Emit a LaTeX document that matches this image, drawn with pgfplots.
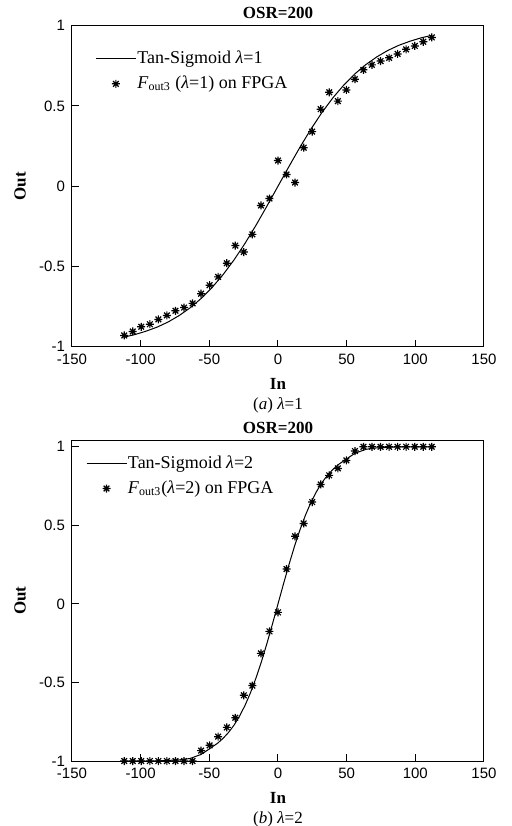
\documentclass[border=0pt]{standalone}
\usepackage{fontspec}
\setmainfont{Liberation Serif}
\setsansfont{Liberation Sans}
\usepackage{pgfplots}
\pgfplotsset{compat=1.18}

% eight-armed asterisk as on the FPGA points
\pgfdeclareplotmark{ast8}{%
  \pgfpathmoveto{\pgfqpoint{-\pgfplotmarksize}{0pt}}\pgfpathlineto{\pgfqpoint{\pgfplotmarksize}{0pt}}%
  \pgfpathmoveto{\pgfqpoint{0pt}{-\pgfplotmarksize}}\pgfpathlineto{\pgfqpoint{0pt}{\pgfplotmarksize}}%
  \pgfpathmoveto{\pgfqpoint{-0.707\pgfplotmarksize}{-0.707\pgfplotmarksize}}\pgfpathlineto{\pgfqpoint{0.707\pgfplotmarksize}{0.707\pgfplotmarksize}}%
  \pgfpathmoveto{\pgfqpoint{-0.707\pgfplotmarksize}{0.707\pgfplotmarksize}}\pgfpathlineto{\pgfqpoint{0.707\pgfplotmarksize}{-0.707\pgfplotmarksize}}%
  \pgfusepathqstroke}

\newcommand{\capfont}{\fontsize{8.5}{10}\selectfont}

\pgfplotsset{
  osr/.style={
    scale only axis, width=206pt, height=160.5pt,
    xmin=-150, xmax=150, ymin=-1, ymax=1, clip=false,
    xtick={-150,-100,-50,0,50,100,150}, xticklabels={-150,-100,-50,0,50,100,150},
    ytick={-1,-0.5,0,0.5,1}, yticklabels={-1,-0.5,0,0.5,1},
    tick pos=left, tick align=inside, major tick length=3.5pt,
    tick label style={font=\sffamily\fontsize{7.5}{9}\selectfont},
    axis line style={line width=0.5pt}, every tick/.style={black, line width=0.5pt},
    title={OSR=200},
    every axis title/.style={font=\bfseries\capfont, at={(axis description cs:0.5,1)}, anchor=base, yshift=3.7pt, inner sep=0pt},
    xlabel={In}, ylabel={Out},
    every axis x label/.style={font=\bfseries\capfont, at={(axis description cs:0.5,0)}, anchor=base, yshift=-21.3pt, inner sep=0pt},
    every axis y label/.style={font=\bfseries\capfont, at={(axis description cs:0,0.5)}, xshift=-26pt, rotate=90, anchor=center, inner sep=0pt},
    legend cell align=left,
    legend image code/.code={\draw[mark repeat=2,mark phase=2,#1] plot coordinates {(0pt,0pt)(10pt,0pt)(20pt,0pt)};},
    legend style={draw=none, fill=none, inner sep=0pt, font=\fontsize{9}{10}\selectfont,
      nodes={inner sep=0.5pt}, at={(axis description cs:0,1)}, anchor=north west},
  },
  curve/.style={black, line width=0.5pt, mark=none},
  fpga/.style={black, only marks, mark=ast8, mark size=2pt, line width=0.6pt},
}

\begin{document}
\begin{tikzpicture}
\useasboundingbox (-36pt,12.85pt) rectangle (219.5pt,-400.15pt);

% (a) lambda = 1
\begin{axis}[osr, name=a1, at={(0pt,0pt)}, anchor=north west,
  legend style={xshift=11.5pt, yshift=-12pt, row sep=3.6pt}]
\addplot[curve] coordinates {
(-112,-0.940) (-104,-0.924) (-96,-0.903) (-88,-0.878) (-80,-0.846) (-72,-0.806)
(-64,-0.758) (-56,-0.700) (-48,-0.631) (-40,-0.551) (-32,-0.459) (-24,-0.356)
(-16,-0.243) (-8,-0.123) (0,0) (8,0.123) (16,0.243) (24,0.356) (32,0.459)
(40,0.551) (48,0.631) (56,0.700) (64,0.758) (72,0.806) (80,0.846) (88,0.878)
(96,0.903) (104,0.924) (112,0.940)};
\addplot[fpga] coordinates {
(-112,-0.93) (-105.8,-0.905) (-99.6,-0.876) (-93.3,-0.86) (-87.1,-0.83) (-80.9,-0.805)
(-74.7,-0.776) (-68.4,-0.756) (-62.2,-0.73) (-56.0,-0.67) (-49.8,-0.617) (-43.6,-0.565)
(-37.3,-0.48) (-31.1,-0.37) (-24.9,-0.41) (-18.7,-0.30) (-12.4,-0.12) (-6.2,-0.077)
(0,0.16) (6.2,0.073) (12.4,0.023) (18.7,0.24) (24.9,0.34) (31.1,0.48) (37.3,0.585)
(43.6,0.53) (49.8,0.60) (56.0,0.667) (62.2,0.725) (68.4,0.756) (74.7,0.78) (80.9,0.80)
(87.1,0.824) (93.3,0.853) (99.6,0.874) (105.8,0.90) (112,0.927)};
\legend{Tan-Sigmoid \textit{λ}=1, \textit{F}\textsubscript{out3} (\textit{λ}=1) on FPGA}
\end{axis}
\node[anchor=base, font=\capfont, inner sep=0pt] at ([yshift=-31.3pt]a1.south) {(\textit{a}) \textit{λ}=1};

% (b) lambda = 2
\begin{axis}[osr, name=a2, at={(0pt,-207.15pt)}, anchor=north west, ymax=1.043,
  title style={yshift=-0.5pt},
  legend style={xshift=6.8pt, yshift=-7.2pt, row sep=3.6pt}]
\addplot[curve] coordinates {
(-112,-1.0) (-88,-1.0) (-80,-0.996) (-72,-0.993) (-64,-0.984) (-56,-0.958) (-52,-0.935)
(-48,-0.911) (-44,-0.887) (-40,-0.856) (-36,-0.818) (-32,-0.772) (-28,-0.714)
(-24,-0.646) (-20,-0.565) (-16,-0.471) (-12,-0.366) (-8,-0.250) (-4,-0.127) (0,0)
(4,0.127) (8,0.250) (12,0.366) (16,0.471) (20,0.565) (24,0.646) (28,0.714) (32,0.772)
(36,0.818) (40,0.856) (44,0.887) (48,0.911) (52,0.935) (56,0.958) (64,0.984)
(72,0.993) (80,0.996) (88,1.0) (112,1.0)};
\addplot[fpga] coordinates {
(-112,-1) (-105.8,-1) (-99.6,-1) (-93.3,-1) (-87.1,-1) (-80.9,-1) (-74.7,-1) (-68.4,-1)
(-62.2,-1) (-56.0,-0.934) (-49.8,-0.90) (-43.6,-0.845) (-37.3,-0.786) (-31.1,-0.725)
(-24.9,-0.582) (-18.7,-0.52) (-12.4,-0.315) (-6.2,-0.175) (0,-0.054) (6.2,0.222)
(12.4,0.43) (18.7,0.512) (24.9,0.648) (31.1,0.76) (37.3,0.818) (43.6,0.862) (49.8,0.913)
(56.0,0.973) (62.2,1) (68.4,1) (74.7,1) (80.9,1) (87.1,1) (93.3,1) (99.6,1) (105.8,1) (112,1)};
\legend{Tan-Sigmoid \textit{λ}=2, \textit{F}\textsubscript{out3}(\textit{λ}=2) on FPGA}
\end{axis}
\node[anchor=base, font=\capfont, inner sep=0pt] at ([yshift=-31.3pt]a2.south) {(\textit{b}) \textit{λ}=2};
\end{tikzpicture}
\end{document}
